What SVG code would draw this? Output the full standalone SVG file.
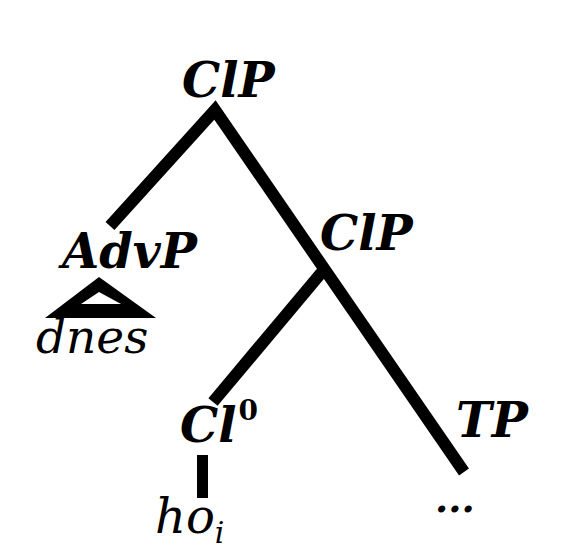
<svg xmlns="http://www.w3.org/2000/svg" width="578" height="549" viewBox="0 0 578 549">
<style>
.lbl{font-family:"DejaVu Serif","Liberation Serif",serif;font-style:italic;font-weight:bold;fill:#000}
.leaf{font-family:"DejaVu Serif","Liberation Serif",serif;font-style:italic;font-weight:normal;fill:#000}
.edge{stroke:#000;stroke-width:12;fill:none;stroke-linecap:butt;stroke-linejoin:miter;stroke-miterlimit:10}
</style>
<rect width="578" height="549" fill="#fff"/>
<g id="connectors">
<polyline class="edge" points="110,226 215,110 464,472"/>
<line class="edge" x1="327" y1="266" x2="213" y2="402"/>
<rect x="197" y="455" width="11" height="43" fill="#000"/>
<polygon points="99,277 45,318 156,318" fill="#000"/>
<polygon points="99,292 81,304 121,304" fill="#fff"/>
</g>
<g id="root-ClP"><text class="lbl" x="182" y="97" font-size="48">ClP</text></g>
<g id="AdvP"><text class="lbl" x="62" y="268" font-size="48">AdvP</text></g>
<g id="dnes"><text class="leaf" x="36" y="353" font-size="47">dnes</text></g>
<g id="ClP2"><text class="lbl" x="320" y="250" font-size="48">ClP</text></g>
<g id="Cl0"><text class="lbl" x="180" y="442" font-size="48">Cl<tspan font-size="28" font-weight="600" font-style="normal" dx="2" dy="-22">0</tspan></text></g>
<g id="hoi"><text class="leaf" x="155" y="533" font-size="48">ho<tspan font-size="30" dy="10">i</tspan></text></g>
<g id="TP"><text class="lbl" x="456" y="437" font-size="48">TP</text></g>
<g id="dots"><text class="lbl" x="435" y="512" font-size="38" font-style="normal">...</text></g>
</svg>
